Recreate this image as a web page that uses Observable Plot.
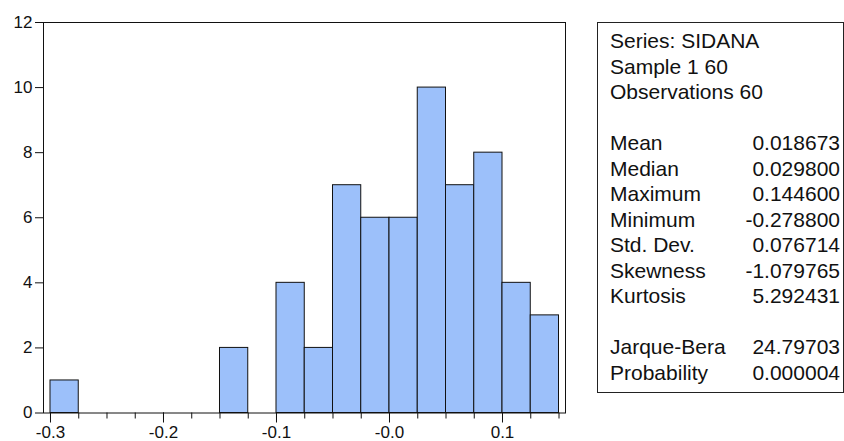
<!DOCTYPE html>
<html>
<head>
<meta charset="utf-8">
<script src="https://cdn.jsdelivr.net/npm/d3@7"></script>
<script src="https://cdn.jsdelivr.net/npm/@observablehq/plot@0.6"></script>
<style>
  html, body { margin: 0; padding: 0; background: #fff; }
  #wrap { position: relative; width: 844px; height: 441px; font-family: "Liberation Sans", Arial, sans-serif; }
  #stats { position: absolute; left: 597px; top: 22px; width: 247px; height: 371px; box-sizing: border-box;
           border: 1px solid #222; padding: 5px 3px 0 12px; font-size: 21px; color: #111; line-height: 25.5px; }
  #stats .row { display: flex; justify-content: space-between; height: 25.5px; white-space: nowrap; }
</style>
</head>
<body>
<div id="wrap"></div>
<script>
// Histogram bins (left edges, width 0.025) and counts
const binStarts = [-0.3, -0.275, -0.25, -0.225, -0.2, -0.175, -0.15, -0.125, -0.1, -0.075, -0.05, -0.025, 0, 0.025, 0.05, 0.075, 0.1, 0.125];
const counts    = [1, 0, 0, 0, 0, 0, 2, 0, 4, 2, 7, 6, 6, 10, 7, 8, 4, 3];
const binWidth = 0.025;

const xMajorTicks = [-0.3, -0.2, -0.1, 0, 0.1];
const xTickLabels = ["-0.3", "-0.2", "-0.1", "-0.0", "0.1"];
const yTicks = [0, 2, 4, 6, 8, 10, 12];

// Summary statistics box
const headerLines = ["Series: SIDANA", "Sample 1 60", "Observations 60"];
const statLabels = ["Mean", "Median", "Maximum", "Minimum", "Std. Dev.", "Skewness", "Kurtosis"];
const statValues = ["0.018673", "0.029800", "0.144600", "-0.278800", "0.076714", "-1.079765", "5.292431"];
const testLabels = ["Jarque-Bera", "Probability"];
const testValues = ["24.79703", "0.000004"];

const bins = binStarts.map((s, i) => ({x0: s, x1: +(s + binWidth).toFixed(3), count: counts[i]})).filter(d => d.count > 0);
const minorTicks = d3.range(0, 19).map(i => +(-0.3 + i * binWidth).toFixed(3));

const chart = Plot.plot({
  width: 844,
  height: 441,
  marginLeft: 43,
  marginRight: 279,
  marginTop: 22,
  marginBottom: 28.5,
  style: {fontFamily: "'Liberation Sans', Arial, sans-serif", fontSize: "17px", color: "#111", background: "transparent"},
  x: {domain: [-0.30619, 0.15575]},
  y: {domain: [0, 12]},
  marks: [
    Plot.rectY(bins, {x1: "x0", x2: "x1", y1: 0, y2: "count", fill: "#9cc0fa", stroke: "#111", strokeWidth: 1}),
    Plot.frame({stroke: "#111", strokeWidth: 1}),
    Plot.axisY({ticks: yTicks, tickSize: 8, tickPadding: 3, label: null, fontSize: 17, tickFormat: d => String(d)}),
    Plot.axisX({ticks: minorTicks, tickSize: 6, text: null, label: null}),
    Plot.axisX({ticks: xMajorTicks, tickSize: 10, tickPadding: 3, label: null, fontSize: 17,
                tickFormat: d => xTickLabels[xMajorTicks.indexOf(d)]})
  ]
});

const wrap = document.getElementById("wrap");
wrap.appendChild(chart);

const box = document.createElement("div");
box.id = "stats";
const addRow = (l, v) => {
  const r = document.createElement("div");
  r.className = "row";
  const a = document.createElement("span"); a.textContent = l;
  const b = document.createElement("span"); b.textContent = v;
  r.appendChild(a); r.appendChild(b);
  box.appendChild(r);
};
headerLines.forEach(h => addRow(h, ""));
addRow("", "");
statLabels.forEach((l, i) => addRow(l, statValues[i]));
addRow("", "");
testLabels.forEach((l, i) => addRow(l, testValues[i]));
wrap.appendChild(box);
</script>
</body>
</html>
